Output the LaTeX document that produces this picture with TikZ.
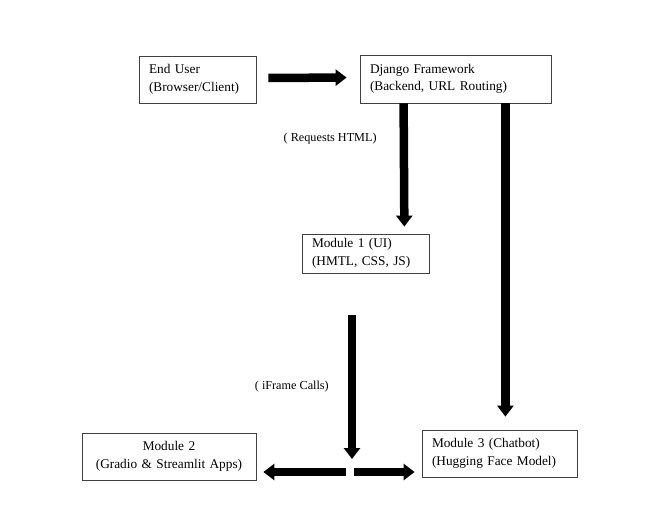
\documentclass[tikz,border=0pt]{standalone}
\usepackage{fontspec}
\setmainfont{Liberation Serif}
\usetikzlibrary{arrows.meta}
\begin{document}
\begin{tikzpicture}[x=1pt,y=-1pt,
  box/.style={draw=black!75,line width=0.8pt,inner xsep=10pt,inner ysep=0pt,align=left,
    minimum height=47pt,font=\fontsize{13.3}{17.5}\selectfont},
  big arrow/.style={line width=8.5pt,-{Triangle[width=16pt,length=11pt]}},
  lbl/.style={font=\fontsize{12.2}{14}\selectfont,inner sep=2pt}]
  \useasboundingbox (0,0) rectangle (646,507);

  \node[box,text width=97pt] (eu) at (197.5,79.5) {End User\\(Browser/Client)};
  \node[box,text width=171pt,minimum height=48pt] (dj) at (455.5,79) {Django Framework\\(Backend, URL Routing)};
  \node[box,text width=107pt,minimum height=39pt] (m1) at (365.5,253.5) {Module 1 (UI)\\(HMTL, CSS, JS)};
  \node[box,text width=154pt,align=center] (m2) at (169,456.5) {Module 2\\(Gradio \& Streamlit Apps)};
  \node[box,text width=135pt] (m3) at (499.5,453.5) {Module 3 (Chatbot)\\(Hugging Face Model)};
  \coordinate (split) at (352,472);

  \path
   ([yshift=1.5pt]eu.east) edge[big arrow,shorten <=12pt,shorten >=13pt] ([yshift=1.5pt]dj.west)
   ([xshift=44pt]dj.south west) edge[big arrow,shorten >=7pt]
     node[lbl,pos=0.27,left=21pt]{( Requests HTML)} ([xshift=-25pt]m1.north east)
   ([xshift=-46pt]dj.south east) edge[big arrow,shorten >=13pt] ([xshift=-72pt]m3.north east)
   (m1.south -| split) edge[big arrow,shorten <=42pt,shorten >=13pt]
     node[lbl,pos=0.57,left=17pt]{( iFrame Calls)} (split)
   (split) edge[big arrow,shorten <=6pt,shorten >=7pt] (split -| m2.east)
   (split) edge[big arrow,shorten <=2pt,shorten >=7pt] (split -| m3.west);
\end{tikzpicture}
\end{document}
